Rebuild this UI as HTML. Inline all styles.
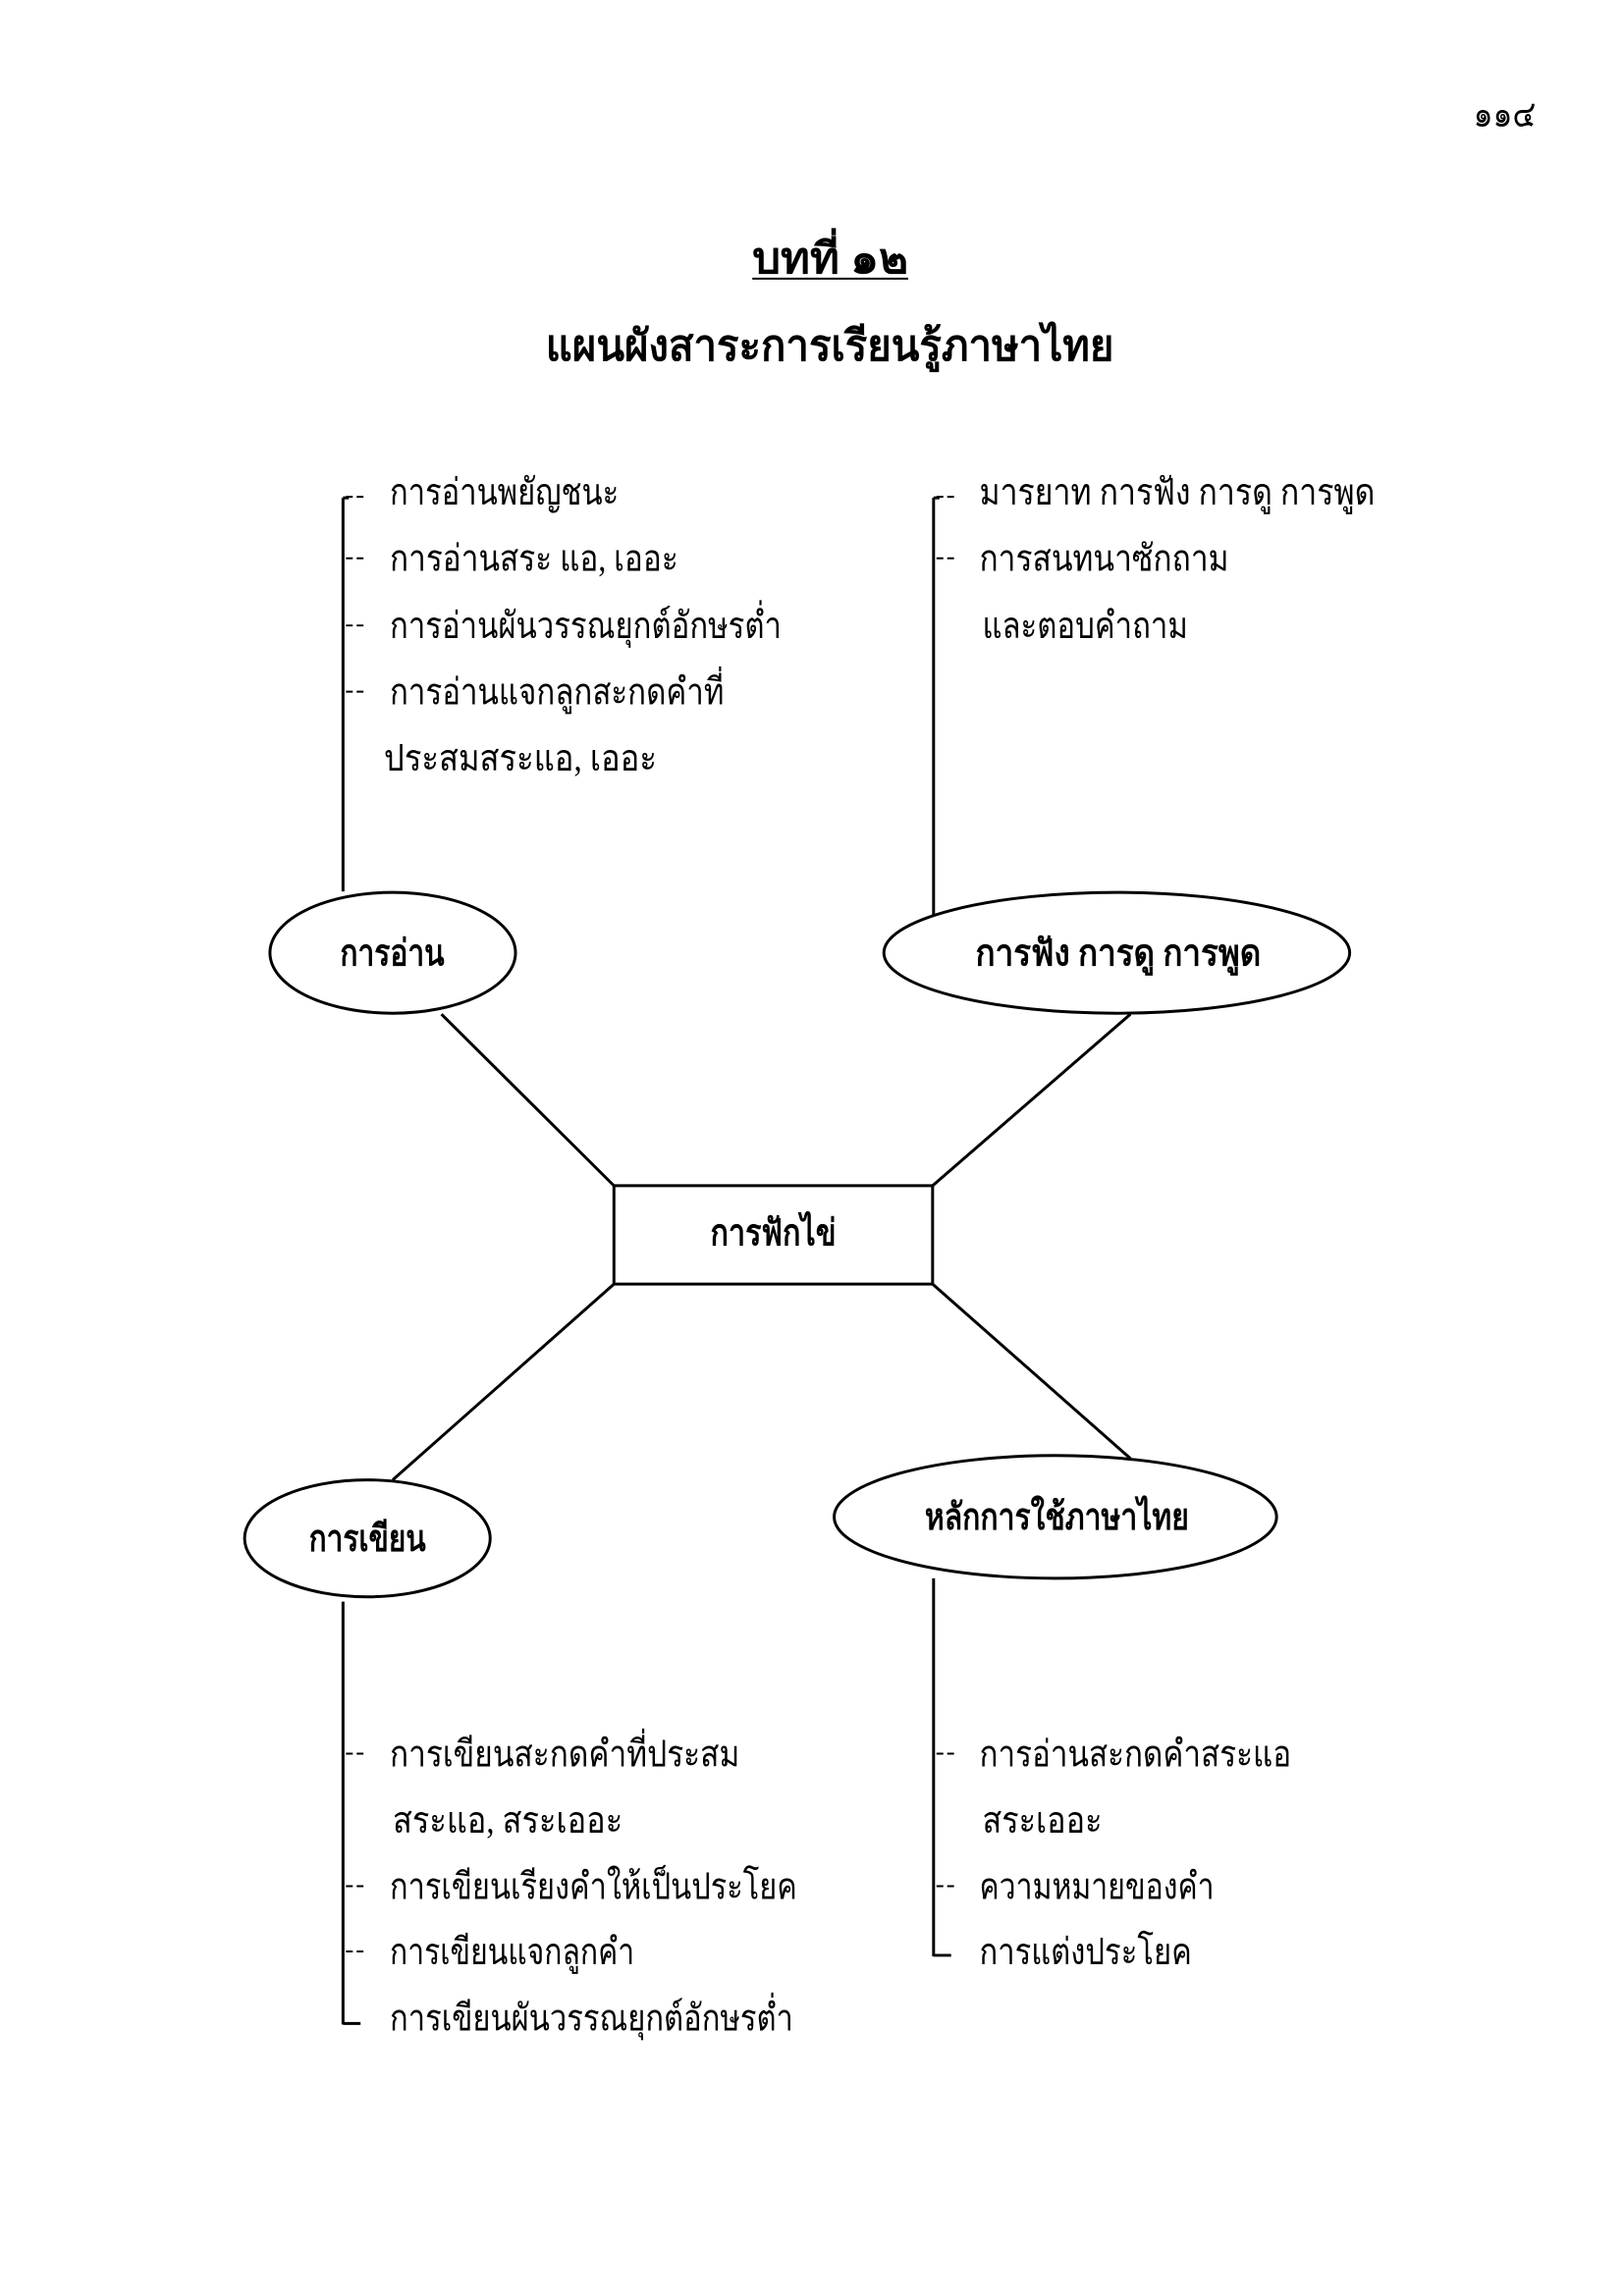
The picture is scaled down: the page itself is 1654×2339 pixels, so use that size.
<!DOCTYPE html>
<html><head><meta charset="utf-8"><style>
html,body{margin:0;padding:0;background:#fff}
svg{display:block}
text{font-family:"Liberation Serif","Noto Serif CJK SC",serif;font-size:38px;fill:#000}
.b{font-weight:bold}
</style></head><body>
<svg width="1654" height="2339" viewBox="0 0 1654 2339" xmlns="http://www.w3.org/2000/svg">
<g transform="scale(0.9925)">
<g stroke="#000" stroke-width="3" fill="none">
<line x1="352" y1="511" x2="352" y2="915"/>
<line x1="352" y1="511" x2="358" y2="511"/>
<line x1="958" y1="511" x2="958" y2="940"/>
<line x1="958" y1="511" x2="964" y2="511"/>
<line x1="352" y1="1644" x2="352" y2="2078"/>
<line x1="352" y1="2077" x2="370" y2="2077"/>
<line x1="958" y1="1620" x2="958" y2="2008"/>
<line x1="958" y1="2007" x2="976" y2="2007"/>
<g stroke-width="2" stroke-dasharray="7,4">
<line x1="355" y1="510" x2="374" y2="510"/>
<line x1="355" y1="573" x2="374" y2="573"/>
<line x1="355" y1="642" x2="374" y2="642"/>
<line x1="355" y1="710" x2="374" y2="710"/>
<line x1="961" y1="510" x2="980" y2="510"/>
<line x1="961" y1="573" x2="980" y2="573"/>
<line x1="355" y1="1800" x2="374" y2="1800"/>
<line x1="355" y1="1936" x2="374" y2="1936"/>
<line x1="355" y1="2003" x2="374" y2="2003"/>
<line x1="961" y1="1800" x2="980" y2="1800"/>
<line x1="961" y1="1936" x2="980" y2="1936"/>
</g>
<ellipse cx="403" cy="978" rx="126" ry="62"/>
<ellipse cx="1146" cy="978" rx="239" ry="62"/>
<ellipse cx="377" cy="1579" rx="126" ry="60"/>
<ellipse cx="1083" cy="1557" rx="227" ry="63"/>
<rect x="630" y="1217" width="327" height="101"/>
<line x1="453" y1="1041" x2="630" y2="1217"/>
<line x1="1160" y1="1041" x2="957" y2="1217"/>
<line x1="630" y1="1318" x2="403" y2="1519"/>
<line x1="957" y1="1318" x2="1160" y2="1497"/>
<line x1="772" y1="286" x2="932" y2="286" stroke-width="2"/>
</g>
<text x="1512" y="130" textLength="64" lengthAdjust="spacingAndGlyphs">๑๑๔</text>
<text class="b" x="772" y="280" textLength="160" lengthAdjust="spacingAndGlyphs" style="font-size:44px">บทที่ ๑๒</text>
<text class="b" x="560" y="370" textLength="583" lengthAdjust="spacingAndGlyphs" style="font-size:44px">แผนผังสาระการเรียนรู้ภาษาไทย</text>

<text x="400" y="518" textLength="235" lengthAdjust="spacingAndGlyphs">การอ่านพยัญชนะ</text>
<text x="400" y="586" textLength="296" lengthAdjust="spacingAndGlyphs">การอ่านสระ แอ, เออะ</text>
<text x="400" y="655" textLength="402" lengthAdjust="spacingAndGlyphs">การอ่านผันวรรณยุกต์อักษรต่ำ</text>
<text x="400" y="723" textLength="343" lengthAdjust="spacingAndGlyphs">การอ่านแจกลูกสะกดคำที่</text>
<text x="394" y="791" textLength="280" lengthAdjust="spacingAndGlyphs">ประสมสระแอ, เออะ</text>

<text x="1005" y="518" textLength="406" lengthAdjust="spacingAndGlyphs">มารยาท การฟัง การดู การพูด</text>
<text x="1005" y="586" textLength="256" lengthAdjust="spacingAndGlyphs">การสนทนาซักถาม</text>
<text x="1008" y="655" textLength="211" lengthAdjust="spacingAndGlyphs">และตอบคำถาม</text>

<text class="b" x="349" y="991" textLength="107" lengthAdjust="spacingAndGlyphs">การอ่าน</text>
<text class="b" x="1001" y="991" textLength="293" lengthAdjust="spacingAndGlyphs">การฟัง การดู การพูด</text>
<text class="b" x="729" y="1278" textLength="129" lengthAdjust="spacingAndGlyphs">การฟักไข่</text>
<text class="b" x="317" y="1592" textLength="120" lengthAdjust="spacingAndGlyphs">การเขียน</text>
<text class="b" x="949" y="1570" textLength="271" lengthAdjust="spacingAndGlyphs">หลักการใช้ภาษาไทย</text>

<text x="400" y="1813" textLength="359" lengthAdjust="spacingAndGlyphs">การเขียนสะกดคำที่ประสม</text>
<text x="403" y="1881" textLength="236" lengthAdjust="spacingAndGlyphs">สระแอ, สระเออะ</text>
<text x="400" y="1949" textLength="418" lengthAdjust="spacingAndGlyphs">การเขียนเรียงคำให้เป็นประโยค</text>
<text x="400" y="2016" textLength="251" lengthAdjust="spacingAndGlyphs">การเขียนแจกลูกคำ</text>
<text x="400" y="2084" textLength="414" lengthAdjust="spacingAndGlyphs">การเขียนผันวรรณยุกต์อักษรต่ำ</text>

<text x="1005" y="1813" textLength="320" lengthAdjust="spacingAndGlyphs">การอ่านสะกดคำสระแอ</text>
<text x="1008" y="1881" textLength="123" lengthAdjust="spacingAndGlyphs">สระเออะ</text>
<text x="1005" y="1949" textLength="241" lengthAdjust="spacingAndGlyphs">ความหมายของคำ</text>
<text x="1005" y="2016" textLength="218" lengthAdjust="spacingAndGlyphs">การแต่งประโยค</text>
</g>
</svg>
</body></html>
